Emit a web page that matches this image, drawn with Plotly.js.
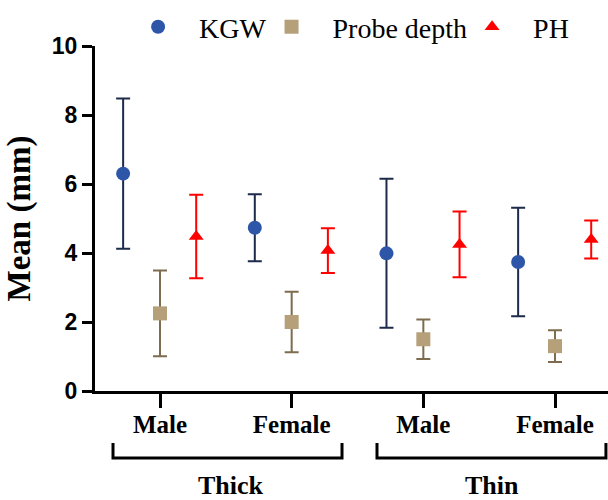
<!DOCTYPE html>
<html>
<head>
<meta charset="utf-8">
<script src="https://cdn.plot.ly/plotly-3.0.1.min.js"></script>
<style>html,body{margin:0;padding:0;background:#fff;}#chart{width:608px;height:500px;}</style>
</head>
<body>
<div id="chart"></div>
<script>
// ---- data ----
var groups = ["Thick", "Thick", "Thin", "Thin"];
var sexes = ["Male", "Female", "Male", "Female"];
var seriesNames = ["KGW", "Probe depth", "PH"];
var kgwMean = [6.30, 4.73, 3.99, 3.74];
var kgwErr = [2.18, 0.97, 2.16, 1.57];
var probeMean = [2.25, 2.00, 1.50, 1.30];
var probeErr = [1.24, 0.88, 0.57, 0.46];
var phMean = [4.48, 4.07, 4.25, 4.39];
var phErr = [1.21, 0.65, 0.95, 0.55];
var groupLabels = ["Thick", "Thin"];

// ---- layout helpers ----
var pos = sexes.map(function (s, i) { return i + 1; });
function shifted(off) { return pos.map(function (p) { return p + off; }); }
var NB = "\u00A0\u00A0\u00A0";

var traces = [
  {
    x: shifted(-0.28), y: kgwMean, name: NB + seriesNames[0], type: "scatter", mode: "markers",
    marker: { symbol: "circle", size: 14, color: "#2e56a8" },
    error_y: { type: "data", array: kgwErr, visible: true, color: "#1c2b4a", thickness: 2, width: 7 }
  },
  {
    x: shifted(0), y: probeMean, name: NB + seriesNames[1], type: "scatter", mode: "markers",
    marker: { symbol: "square", size: 14, color: "#b5a07a" },
    error_y: { type: "data", array: probeErr, visible: true, color: "#7d6c4e", thickness: 2, width: 7 }
  },
  {
    x: shifted(0.275), y: phMean, name: NB + seriesNames[2], type: "scatter", mode: "markers",
    marker: { symbol: "triangle-up", size: 13, color: "#ff0000" },
    error_y: { type: "data", array: phErr, visible: true, color: "#ff0000", thickness: 2, width: 7 }
  }
];

var serifBold = { family: "Liberation Serif, Times New Roman, serif", size: 25, color: "#000", weight: "bold" };

var layout = {
  width: 608, height: 500,
  margin: { l: 95, r: 0, t: 46, b: 109 },
  paper_bgcolor: "#fff", plot_bgcolor: "#fff",
  showlegend: true,
  legend: {
    orientation: "h", x: 0.084, xanchor: "left", y: 1.055, yanchor: "middle",
    font: { family: "Liberation Serif, Times New Roman, serif", size: 28, color: "#000" },
    bgcolor: "rgba(0,0,0,0)", itemsizing: "trace", tracegroupgap: 0
  },
  xaxis: {
    range: [0.5063, 4.4025], tickmode: "array", tickvals: pos, ticktext: sexes,
    ticks: "outside", ticklen: 14, tickwidth: 3, tickcolor: "#000",
    showline: true, linewidth: 3, linecolor: "#000", ticklabelstandoff: -5,
    showgrid: false, zeroline: false, tickfont: serifBold
  },
  yaxis: {
    range: [0, 10], tickmode: "linear", tick0: 0, dtick: 2,
    ticks: "outside", ticklen: 10, tickwidth: 3, tickcolor: "#000",
    showline: true, linewidth: 3, linecolor: "#000",
    showgrid: false, zeroline: false,
    tickfont: { family: "Liberation Sans, Arial, sans-serif", size: 23, color: "#000", weight: "bold" },
    title: { text: "Mean (mm)", font: { family: "Liberation Serif, Times New Roman, serif", size: 33, color: "#000", weight: "bold" }, standoff: 12 }
  },
  shapes: [
    { type: "path", xref: "paper", yref: "paper", path: "M 0.0351 -0.1507 L 0.0351 -0.1942 L 0.4815 -0.1942 L 0.4815 -0.1507", line: { color: "#000", width: 3 } },
    { type: "path", xref: "paper", yref: "paper", path: "M 0.5497 -0.1507 L 0.5497 -0.1942 L 0.996 -0.1942 L 0.996 -0.1507", line: { color: "#000", width: 3 } }
  ],
  annotations: [
    { text: groupLabels[0], xref: "paper", yref: "paper", x: 0.265, y: -0.273, xanchor: "center", yanchor: "middle", showarrow: false, font: { family: "Liberation Serif, Times New Roman, serif", size: 26, color: "#000", weight: "bold" } },
    { text: groupLabels[1], xref: "paper", yref: "paper", x: 0.774, y: -0.273, xanchor: "center", yanchor: "middle", showarrow: false, font: { family: "Liberation Serif, Times New Roman, serif", size: 26, color: "#000", weight: "bold" } }
  ]
};

Plotly.newPlot("chart", traces, layout, { displayModeBar: false, responsive: false });
</script>
</body>
</html>
